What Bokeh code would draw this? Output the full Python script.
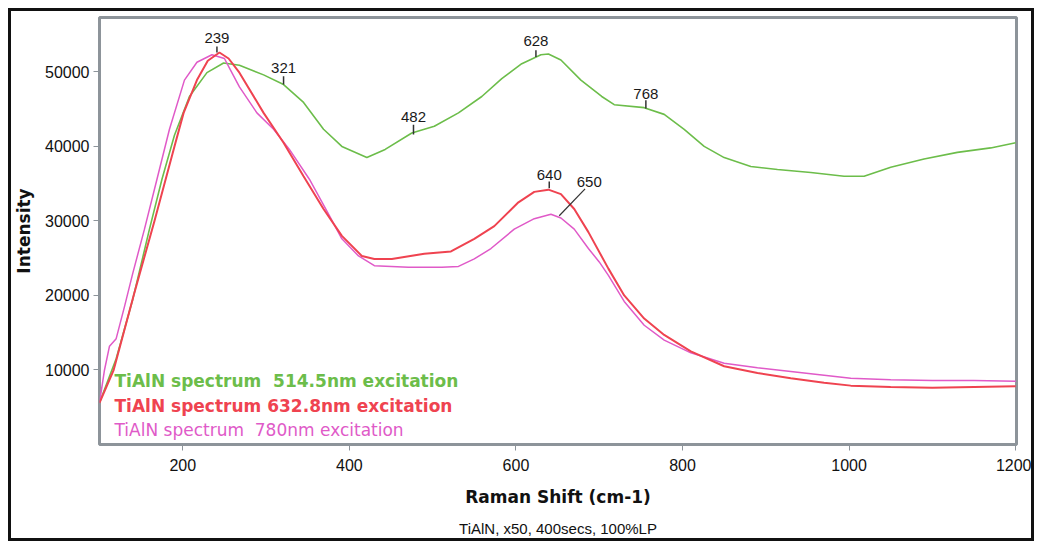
from bokeh.plotting import figure
from bokeh.models import ColumnDataSource, Range1d, FixedTicker, Label, Title
from bokeh.embed import file_html
from bokeh.resources import INLINE

# ---- data (Raman shift cm-1 / intensity) ----
green_x = [100, 120, 140, 160, 175, 190, 208, 229, 249, 268, 297, 321, 345, 369, 391,
           421, 443, 475, 502, 531, 559, 583, 607, 630, 639, 654, 678, 703, 718, 754,
           778, 802, 826, 850, 882, 914, 954, 994, 1018, 1050, 1090, 1130, 1170, 1200]
green_y = [5600, 11500, 19500, 28900, 35600, 41500, 46700, 49900, 51200, 50900, 49600,
           48300, 45900, 42300, 40000, 38500, 39600, 41800, 42700, 44500, 46700, 49100,
           51100, 52300, 52400, 51600, 48900, 46700, 45600, 45200, 44300, 42300, 40000,
           38500, 37300, 36900, 36500, 36000, 36000, 37200, 38300, 39200, 39800, 40500]

red_x = [100, 117, 141, 166, 190, 201, 217, 230, 244, 255, 268, 297, 321, 345, 369, 391,
         415, 430, 451, 490, 522, 550, 574, 603, 622, 639, 654, 670, 687, 711, 730, 754,
         778, 810, 850, 890, 930, 970, 1002, 1050, 1100, 1150, 1200]
red_y = [5600, 10000, 20000, 30000, 40000, 44500, 48900, 51500, 52600, 51800, 49900,
         44500, 40500, 36000, 31600, 28000, 25300, 24900, 24900, 25600, 25900, 27600,
         29300, 32500, 33900, 34200, 33600, 31600, 28500, 23600, 20000, 16900, 14700,
         12500, 10500, 9600, 8900, 8300, 7900, 7700, 7600, 7700, 7800]

mag_x = [100, 106, 112, 120, 130, 140, 154, 169, 184, 202, 217, 235, 250, 257, 268, 289,
         309, 328, 352, 376, 391, 411, 430, 471, 511, 531, 550, 570, 598, 622, 642, 654,
         670, 687, 700, 711, 730, 754, 778, 810, 850, 890, 930, 970, 1002, 1050, 1100,
         1150, 1200]
mag_y = [5600, 10000, 13200, 14200, 18500, 23000, 28900, 35600, 42300, 48900, 51300,
         52300, 51800, 50300, 48000, 44500, 42300, 39600, 35600, 30700, 27600, 25300,
         24000, 23800, 23800, 23900, 24900, 26300, 28900, 30300, 30900, 30400, 28900,
         26300, 24500, 22700, 19200, 16000, 14000, 12300, 10900, 10300, 9800, 9300, 8900,
         8700, 8600, 8600, 8500]

# peak annotations
peak_labels = ["239", "321", "482", "628", "768", "640"]
peak_x = [241, 321, 477, 624, 756, 640]
peak_text_y = [54500, 50500, 44000, 54100, 47100, 36100]
peak_tick_top = [53400, 49400, 42900, 52900, 46200, 35300]
peak_tick_bottom = [52600, 48300, 41600, 52000, 45100, 34400]

# the "650" label with its leader line
lead_label = ["650"]
lead_text_x = [688]
lead_text_y = [35200]
lead_x0 = [683]
lead_y0 = [34300]
lead_x1 = [652]
lead_y1 = [30700]

legend_texts = ["TiAlN spectrum\u00a0 514.5nm excitation",
                "TiAlN spectrum 632.8nm excitation",
                "TiAlN spectrum\u00a0 780nm excitation"]
legend_y = [8500, 5200, 2000]

x_ticks = [200, 400, 600, 800, 1000, 1200]
y_ticks = [10000, 20000, 30000, 40000, 50000]

GREEN = "#6cbd4a"
RED = "#ef4350"
MAGENTA = "#e05ac8"

p = figure(width=1026, height=533, output_backend="svg", toolbar_location=None,
           x_range=Range1d(100, 1201), y_range=Range1d(0, 57300),
           min_border_left=87, min_border_top=6, min_border_right=21, min_border_bottom=97)
p.styles = {"border": "3px solid #111111", "margin-left": "8px", "margin-top": "8px"}

p.background_fill_color = "white"
p.border_fill_color = "white"
p.outline_line_color = "#8d949a"
p.outline_line_width = 3
p.xgrid.visible = False
p.ygrid.visible = False

for ax in (p.xaxis, p.yaxis):
    ax.axis_line_color = None
    ax.major_tick_line_color = "#8d949a"
    ax.major_tick_line_width = 1
    ax.major_tick_out = 6
    ax.major_tick_in = 0
    ax.minor_tick_line_color = None
    ax.major_label_text_font = "Liberation Sans"
    ax.major_label_text_font_size = "16px"
    ax.major_label_text_color = "#111111"
    ax.axis_label_text_font = "DejaVu Sans"
    ax.axis_label_text_font_style = "bold"
    ax.axis_label_text_color = "#111111"

p.xaxis.ticker = FixedTicker(ticks=x_ticks)
p.yaxis.ticker = FixedTicker(ticks=y_ticks)
p.xaxis.major_label_standoff = 8
p.yaxis.major_label_standoff = 4
p.xaxis.axis_label = "Raman Shift (cm-1)"
p.xaxis.axis_label_text_font_size = "17px"
p.xaxis.axis_label_standoff = 13
p.yaxis.axis_label = "Intensity"
p.yaxis.axis_label_text_font_size = "17px"
p.yaxis.axis_label_standoff = 8

p.add_layout(Title(text="TiAlN, x50, 400secs, 100%LP", align="center",
                   text_font="Liberation Sans", text_font_size="15px",
                   text_font_style="normal", text_color="#111111", standoff=16), "below")

p.line(green_x, green_y, line_color=GREEN, line_width=1.6)
p.line(mag_x, mag_y, line_color=MAGENTA, line_width=1.5)
p.line(red_x, red_y, line_color=RED, line_width=2)

src = ColumnDataSource(dict(x=peak_x, ty=peak_text_y, t0=peak_tick_top,
                            t1=peak_tick_bottom, label=peak_labels))
p.segment(x0="x", y0="t0", x1="x", y1="t1", source=src, line_color="#333333", line_width=1.5)
p.text(x="x", y="ty", text="label", source=src, text_align="center",
       text_baseline="middle", text_font_size="15px", text_color="#1a1a1a",
       text_font={"value": "Liberation Sans"})

lsrc = ColumnDataSource(dict(x=lead_text_x, y=lead_text_y, x0=lead_x0, y0=lead_y0,
                             x1=lead_x1, y1=lead_y1, label=lead_label))
p.segment(x0="x0", y0="y0", x1="x1", y1="y1", source=lsrc, line_color="#333333", line_width=1.2)
p.text(x="x", y="y", text="label", source=lsrc, text_align="center",
       text_baseline="middle", text_font_size="15px", text_color="#1a1a1a",
       text_font={"value": "Liberation Sans"})

for txt, yy, col, style in zip(legend_texts, legend_y, [GREEN, RED, MAGENTA],
                               ["bold", "bold", "normal"]):
    p.add_layout(Label(x=118, y=yy, text=txt, text_color=col, text_font="DejaVu Sans",
                       text_font_size="17px", text_font_style=style,
                       text_baseline="middle", text_align="left"))

open("out.html", "w").write(file_html(p, INLINE))
